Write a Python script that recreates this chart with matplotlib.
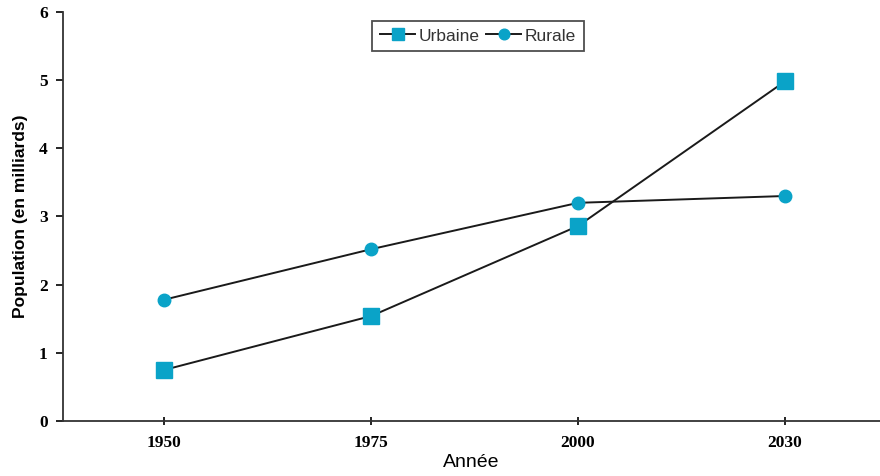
import matplotlib
matplotlib.use("Agg")
import matplotlib.pyplot as plt

annees = ["1950", "1975", "2000", "2030"]
urbaine = [0.75, 1.54, 2.86, 4.98]
rurale = [1.78, 2.52, 3.2, 3.3]

bleu = "#0aa3c8"
x = list(range(len(annees)))

fig = plt.figure(figsize=(8.8, 4.76), dpi=100)
ax = fig.add_axes([0.0716, 0.1155, 0.9284, 0.8595])

ax.plot(x, urbaine, color="#1a1a1a", lw=1.4, marker="s", ms=11,
        mfc=bleu, mec=bleu, label="Urbaine")
ax.plot(x, rurale, color="#1a1a1a", lw=1.4, marker="o", ms=9,
        mfc=bleu, mec=bleu, label="Rurale")

ax.set_xlim(-0.49, 3.46)
ax.set_ylim(0, 6)
ax.set_xticks(x)
ax.set_xticklabels(annees)
ax.set_yticks(range(7))

for s in ["top", "right"]:
    ax.spines[s].set_visible(False)
for s in ["left", "bottom"]:
    ax.spines[s].set_linewidth(1.3)
    ax.spines[s].set_color("#333333")

ax.tick_params(axis="x", direction="inout", length=6, width=1.2, pad=7)
ax.tick_params(axis="y", direction="out", length=5, width=1.2, pad=6)
for lab in ax.get_xticklabels() + ax.get_yticklabels():
    lab.set_fontfamily("Liberation Serif")
    lab.set_fontweight("bold")
    lab.set_fontsize(12.5)

ax.set_xlabel("Année", fontsize=14, family="Liberation Sans", labelpad=2)
ax.set_ylabel("Population (en milliards)", fontsize=12.5, fontweight="bold",
              family="Liberation Sans", labelpad=8)

leg = ax.legend(loc="upper center", bbox_to_anchor=(0.508, 1.0), ncol=2,
                fontsize=12.5, frameon=True, fancybox=False, handlelength=2.0,
                handletextpad=0.2, columnspacing=0.4, borderpad=0.45,
                markerscale=0.85)
leg.get_frame().set_edgecolor("#222222")
leg.get_frame().set_linewidth(1.3)
for t in leg.get_texts():
    t.set_color("#333333")
    t.set_family("Liberation Sans")

fig.savefig("out.png", dpi=100)
